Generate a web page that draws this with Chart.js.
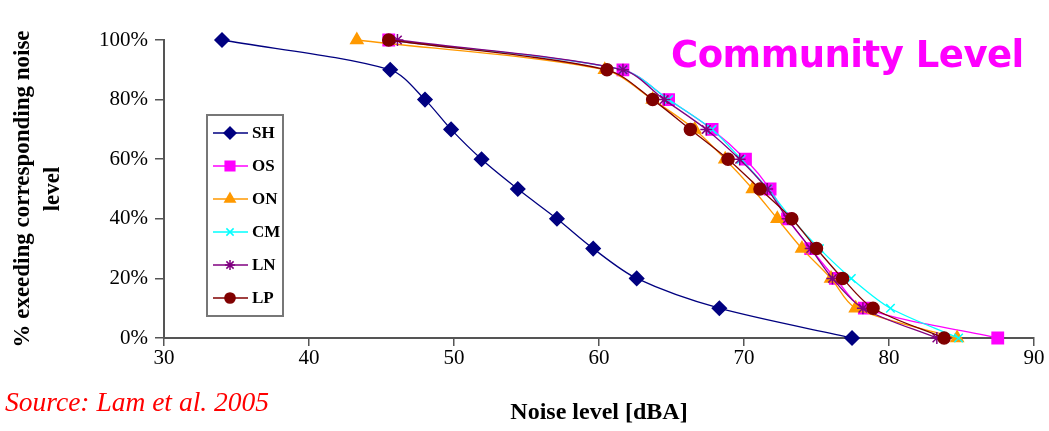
<!DOCTYPE html>
<html>
<head>
<meta charset="utf-8">
<script src="https://cdn.jsdelivr.net/npm/chart.js@4.4.1/dist/chart.umd.min.js"></script>
<style>
    html, body { margin: 0; padding: 0; background: #fff; }
    #wrap { position: relative; width: 1049px; height: 431px; overflow: hidden; }
    #title {
        position: absolute; left: 671px; top: 33px;
        font: bold 37px 'DejaVu Sans', sans-serif; color: #ff00ff;
        white-space: nowrap; letter-spacing: -0.5px;
    }
    #source {
        position: absolute; left: 5px; top: 386px;
        font: italic 27.5px 'Liberation Serif', serif; color: #ff0000;
        white-space: nowrap;
    }
</style>
</head>
<body>
<div id="wrap">
    <canvas id="noiseChart" width="1049" height="431"></canvas>
    <div id="title">Community Level</div>
    <div id="source">Source: Lam et al. 2005</div>
</div>
<script>
/* ── DADOS ── */
const levels = [100, 90, 80, 70, 60, 50, 40, 30, 20, 10, 0];

const shNoise = [34.0, 45.6, 48.0, 49.8, 51.9, 54.4, 57.1, 59.6, 62.6, 68.3, 77.45];
const osNoise = [45.5, 61.65, 64.8, 67.8, 70.1, 71.8, 73.0, 74.6, 76.3, 78.3, 87.5];
const onNoise = [43.3, 60.4, 63.7, 66.6, 68.7, 70.6, 72.3, 74.0, 76.0, 77.7, 84.7];
const cmNoise = [45.5, 61.65, 64.8, 67.8, 69.8, 71.65, 73.3, 75.2, 77.4, 80.1, 84.8];
const lnNoise = [46.1, 61.65, 64.5, 67.4, 69.7, 71.6, 73.0, 74.6, 76.1, 78.2, 83.3];
const lpNoise = [45.5, 60.55, 63.7, 66.3, 68.9, 71.1, 73.3, 75.0, 76.8, 78.9, 83.8];

const xTicks = [30, 40, 50, 60, 70, 80, 90];
const yTicks = [0, 20, 40, 60, 80, 100];

const toPoints = (noise) => noise.map((v, i) => ({ x: v, y: levels[i] }));

function series(label, noise, color, style, radius, order) {
    return {
        label,
        data: toPoints(noise),
        borderColor: color,
        backgroundColor: color,
        pointBackgroundColor: color,
        pointBorderColor: color,
        pointStyle: style,
        pointRadius: radius,
        pointBorderWidth: 1.5,
        borderWidth: 1.3,
        tension: 0.3,
        fill: false,
        clip: false,
        order
    };
}

/* ── LEGENDA EM CAIXA ── */
const boxLegend = {
    id: 'boxLegend',
    afterDraw(chart) {
        const ctx = chart.ctx;
        const x0 = 207, y0 = 115, w = 76, h = 201;

        ctx.save();
        ctx.fillStyle = '#fff';
        ctx.fillRect(x0, y0, w, h);
        ctx.strokeStyle = '#777';
        ctx.lineWidth = 2;
        ctx.strokeRect(x0, y0, w, h);

        chart.data.datasets.forEach((ds, i) => {
            const y = y0 + 18 + i * 33;

            ctx.strokeStyle = ds.borderColor;
            ctx.lineWidth = 1.3;
            ctx.beginPath();
            ctx.moveTo(x0 + 6, y);
            ctx.lineTo(x0 + 41, y);
            ctx.stroke();

            ctx.fillStyle = ds.borderColor;
            ctx.lineWidth = 1.5;
            Chart.helpers.drawPoint(ctx, {
                pointStyle: ds.pointStyle,
                radius: ds.pointRadius * 0.85,
                rotation: 0,
                borderWidth: 1.5
            }, x0 + 23, y);

            ctx.fillStyle = '#000';
            ctx.font = 'bold 17px "Liberation Serif"';
            ctx.textBaseline = 'middle';
            ctx.fillText(ds.label, x0 + 45, y + 1);
        });
        ctx.restore();
    }
};

/* ── GRÁFICO ── */
const ctx = document.getElementById('noiseChart');

const axisColor = '#555';

new Chart(ctx, {
    type: 'line',
    data: {
        datasets: [
            series('SH', shNoise, '#000080', 'rectRot', 7, 5),
            series('OS', osNoise, '#ff00ff', 'rect', 8, 4),
            series('ON', onNoise, '#ff9900', 'triangle', 7, 3),
            series('CM', cmNoise, '#00ffff', 'crossRot', 6, 2),
            series('LN', lnNoise, '#800080', 'star', 6, 1),
            series('LP', lpNoise, '#800000', 'circle', 6, 0)
        ]
    },
    options: {
        responsive: false,
        animation: false,
        layout: {
            padding: { left: 0, right: 15, top: 40, bottom: 0 }
        },
        plugins: {
            legend: { display: false },
            tooltip: { enabled: false }
        },
        scales: {
            x: {
                type: 'linear',
                min: 30,
                max: 90,
                afterBuildTicks: (scale) => {
                    scale.ticks = xTicks.map(v => ({ value: v }));
                },
                afterFit: (scale) => { scale.height = 93; },
                ticks: {
                    color: '#000',
                    padding: 0,
                    maxRotation: 0,
                    font: { family: 'Liberation Serif', size: 21 }
                },
                grid: {
                    drawOnChartArea: false,
                    tickLength: 8,
                    color: axisColor,
                    lineWidth: 1.5
                },
                border: { color: axisColor, width: 2 },
                title: {
                    display: true,
                    text: 'Noise level [dBA]',
                    color: '#000',
                    padding: { top: 0, bottom: 4 },
                    font: { family: 'Liberation Serif', size: 24, weight: 'bold' }
                }
            },
            y: {
                min: 0,
                max: 100,
                afterBuildTicks: (scale) => {
                    scale.ticks = yTicks.map(v => ({ value: v }));
                },
                afterFit: (scale) => { scale.width = 164; },
                ticks: {
                    color: '#000',
                    padding: 7,
                    callback: (v) => v + '%',
                    font: { family: 'Liberation Serif', size: 21 }
                },
                grid: {
                    drawOnChartArea: false,
                    tickLength: 9,
                    color: axisColor,
                    lineWidth: 1.5
                },
                border: { color: axisColor, width: 2 },
                title: {
                    display: true,
                    text: ['% exeeding corresponding noise', 'level'],
                    color: '#000',
                    padding: { top: 8, bottom: 0 },
                    font: { family: 'Liberation Serif', size: 23, weight: 'bold', lineHeight: 1.3 }
                }
            }
        }
    },
    plugins: [boxLegend]
});
</script>
</body>
</html>
